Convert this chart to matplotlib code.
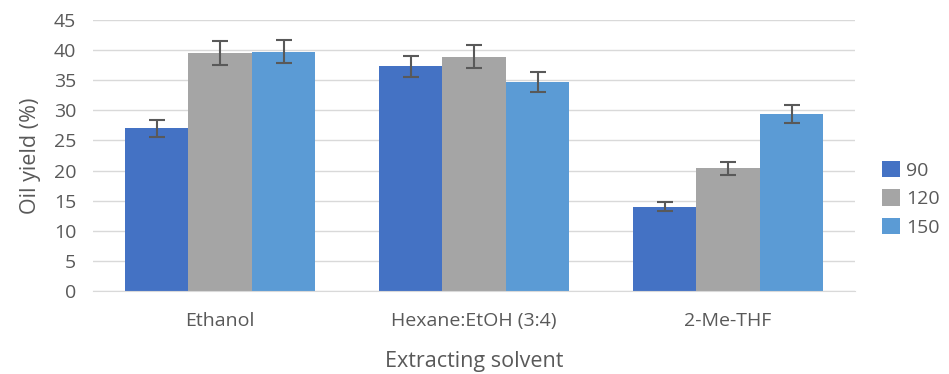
import numpy as np
import matplotlib.pyplot as plt

plt.rcParams['font.family'] = ['Open Sans', 'DejaVu Sans']

# data
solvents = ['Ethanol', 'Hexane:EtOH (3:4)', '2-Me-THF']
series = ['90', '120', '150']
y90 = [27.0, 37.3, 14.0]
y120 = [39.5, 38.9, 20.4]
y150 = [39.7, 34.7, 29.4]
e90 = [1.35, 1.8, 0.75]
e120 = [1.95, 1.9, 1.1]
e150 = [1.9, 1.7, 1.5]

colors = ['#4472C4', '#A5A5A5', '#5B9BD5']
txt = '#595959'

fig = plt.figure(figsize=(9.49, 3.74), dpi=100)
ax = fig.add_axes([0.098, 0.222, 0.803, 0.7245])

x = np.arange(len(solvents))
w = 0.25
for i, (vals, errs) in enumerate([(y90, e90), (y120, e120), (y150, e150)]):
    ax.bar(x + (i - 1) * w, vals, w, color=colors[i], label=series[i], zorder=2,
           yerr=errs, error_kw=dict(ecolor='#595959', elinewidth=1.5, capsize=5.5, capthick=1.5))

ax.set_xlim(-0.5, 2.5)
ax.set_ylim(0, 45)
ax.set_yticks(np.arange(0, 46, 5))
ax.set_xticks(x)
ax.set_xticklabels(solvents)
ax.grid(axis='y', color='#D9D9D9', linewidth=1, zorder=0)
ax.set_axisbelow(True)
for s in ['top', 'right', 'left']:
    ax.spines[s].set_visible(False)
ax.spines['bottom'].set_color('#D9D9D9')
ax.tick_params(axis='both', length=0, labelsize=14, colors=txt)
ax.tick_params(axis='y', pad=12)
ax.tick_params(axis='x', pad=15)

ax.set_ylabel('Oil yield (%)', fontsize=15.5, color=txt, labelpad=9)
ax.set_xlabel('Extracting solvent', fontsize=15.5, color=txt, labelpad=15)

ax.legend(loc='center left', bbox_to_anchor=(1.025, 0.34), frameon=False, borderaxespad=0,
          fontsize=14, labelcolor=txt, handlelength=0.95, handleheight=0.9,
          handletextpad=0.3, labelspacing=0.5)

plt.savefig('out.png', dpi=100)
plt.close()
